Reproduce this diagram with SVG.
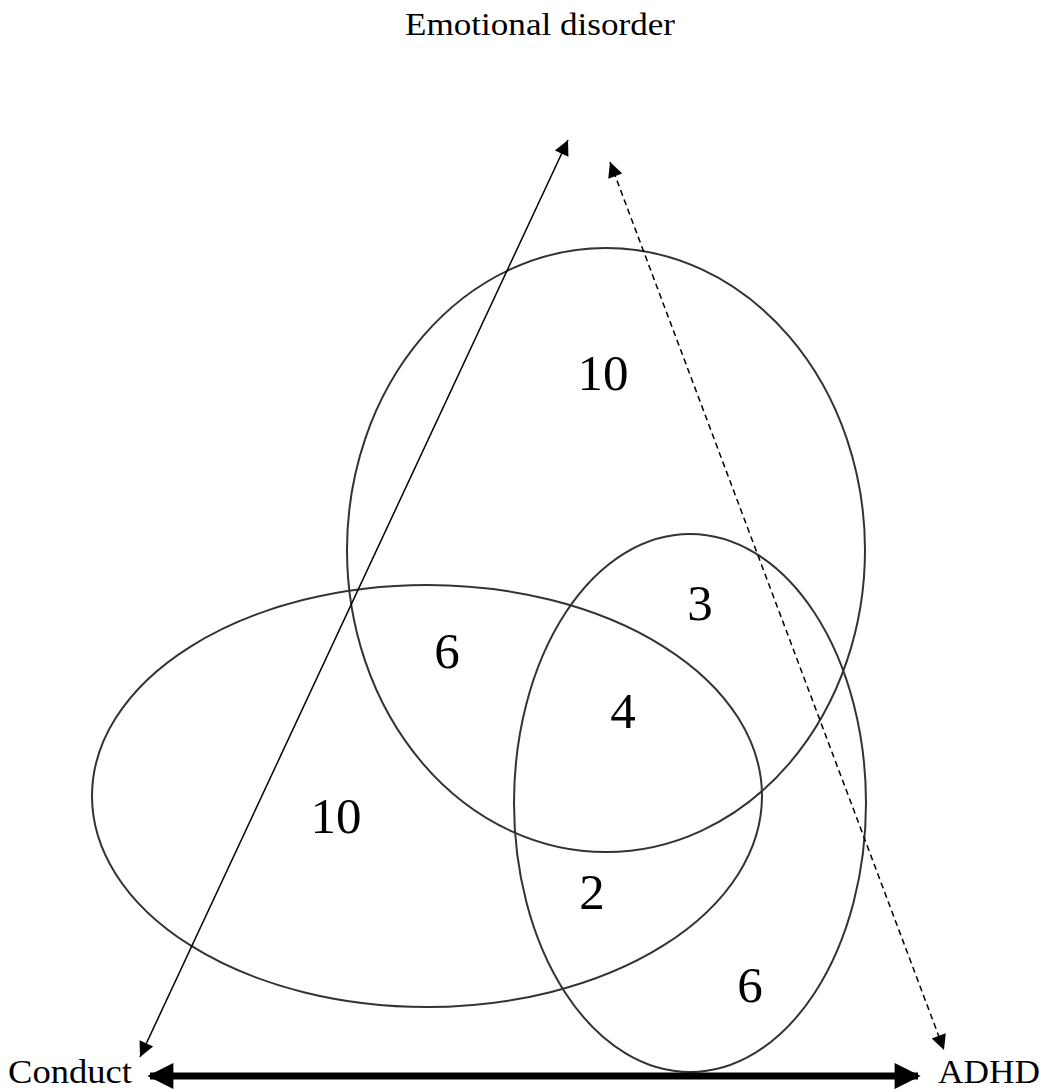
<svg xmlns="http://www.w3.org/2000/svg" width="1049" height="1090" viewBox="0 0 1049 1090">
<style>
.e{fill:none;stroke:#333;stroke-width:2}
.t{font-family:"Liberation Serif","DejaVu Serif",serif;fill:#000}
.n{font-size:51px;text-anchor:middle}
</style>
<defs>
<marker id="ah" viewBox="0 0 10 10" refX="10" refY="5" markerWidth="18" markerHeight="15" markerUnits="userSpaceOnUse" orient="auto-start-reverse"><path d="M0,0L10,5L0,10z" fill="#000"/></marker>
<marker id="ahb" viewBox="0 0 10 10" refX="9" refY="5" markerWidth="32" markerHeight="26" markerUnits="userSpaceOnUse" orient="auto-start-reverse"><path d="M0,0L10,5L0,10z" fill="#000"/></marker>
</defs>
<rect width="1049" height="1090" fill="#fff"/>
<g id="emotional">
<ellipse class="e" cx="606" cy="550" rx="259" ry="302"/>
<text class="t" x="540" y="35" font-size="31" text-anchor="middle" textLength="270" lengthAdjust="spacingAndGlyphs">Emotional disorder</text>
</g>
<g id="conduct">
<ellipse class="e" cx="427" cy="796" rx="335" ry="211"/>
<text class="t" x="8" y="1083" font-size="33" textLength="124" lengthAdjust="spacingAndGlyphs">Conduct</text>
</g>
<g id="adhd">
<ellipse class="e" cx="690" cy="803" rx="176" ry="269"/>
<text class="t" x="938" y="1083" font-size="33" textLength="102" lengthAdjust="spacingAndGlyphs">ADHD</text>
</g>
<g id="counts" class="t">
<text class="n" x="603" y="390">10</text>
<text class="n" x="700" y="620">3</text>
<text class="n" x="447" y="668">6</text>
<text class="n" x="623" y="728">4</text>
<text class="n" x="336" y="833">10</text>
<text class="n" x="592" y="909">2</text>
<text class="n" x="750" y="1002">6</text>
</g>
<g id="connectors">
<line x1="140" y1="1057" x2="568" y2="140" stroke="#000" stroke-width="1.5" marker-start="url(#ah)" marker-end="url(#ah)"/>
<line x1="610" y1="162" x2="944" y2="1050" stroke="#000" stroke-width="1.5" stroke-dasharray="6,4" marker-start="url(#ah)" marker-end="url(#ah)"/>
<line x1="150" y1="1076" x2="918" y2="1076" stroke="#000" stroke-width="7" marker-start="url(#ahb)" marker-end="url(#ahb)"/>
</g>
</svg>
